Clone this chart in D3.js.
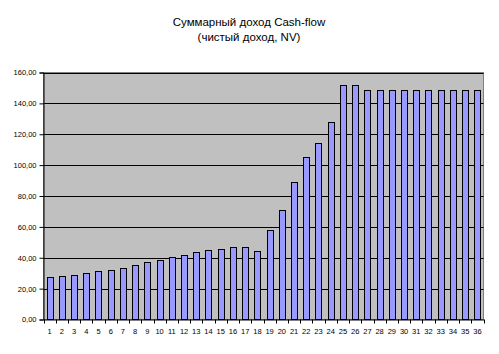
<!DOCTYPE html>
<html><head><meta charset="utf-8">
<script src="https://cdn.jsdelivr.net/npm/d3@7"></script>
<style>body{margin:0;background:#fff}svg{display:block}</style>
</head><body>
<script>
const titleLines = ["Суммарный доход Cash-flow", "(чистый доход, NV)"];
const categories = d3.range(1, 37).map(String);
const values = [27.8, 28.3, 28.9, 30.4, 31.1, 32.2, 33.5, 35.6, 37.4, 38.7, 40.6, 41.9,
  43.8, 45.1, 45.8, 47.1, 47.1, 44.5, 58.1, 71.0, 89.2, 105.4, 114.6, 128.0,
  152.2, 152.2, 148.8, 148.8, 148.8, 148.8, 148.8, 148.8, 148.8, 148.8, 148.8, 148.8];
const yTicks = [0, 20, 40, 60, 80, 100, 120, 140, 160];

const W = 499, H = 354;
const m = {left: 43.5, right: 483.5, top: 72.5, bottom: 319.5};
const svg = d3.select("body").append("svg").attr("width", W).attr("height", H);

const x = d3.scaleBand().domain(categories).range([m.left, m.right]).paddingInner(0.5).paddingOuter(0.25);
const y = d3.scaleLinear().domain([0, 160]).range([m.bottom, m.top]);

svg.append("rect").attr("x", m.left).attr("y", m.top).attr("width", m.right - m.left).attr("height", m.bottom - m.top)
  .attr("fill", "#c0c0c0").attr("stroke", "#808080").attr("stroke-width", 1);

svg.append("g").selectAll("line").data(yTicks.slice(1)).join("line")
  .attr("x1", m.left).attr("x2", m.right)
  .attr("y1", d => Math.round(y(d)) + 0.5).attr("y2", d => Math.round(y(d)) + 0.5)
  .attr("stroke", "#000").attr("stroke-width", 1);

svg.append("g").selectAll("rect").data(values).join("rect")
  .attr("x", (d, i) => Math.round(x(categories[i])) + 0.5)
  .attr("width", Math.round(x.bandwidth()))
  .attr("y", d => Math.round(y(d)) + 0.5)
  .attr("height", d => m.bottom - Math.round(y(d)) - 0.5)
  .attr("fill", "#9999ff").attr("stroke", "#000").attr("stroke-width", 1);

const fmt = d => d3.format(".2f")(d).replace(".", ",");
const yAxis = svg.append("g").attr("transform", `translate(${m.left},0)`)
  .call(d3.axisLeft(y).tickValues(yTicks).tickFormat(fmt).tickSize(4).tickPadding(3));
yAxis.select(".domain").attr("stroke", "#000");
yAxis.selectAll(".tick text").attr("font-family", "Arial, 'Liberation Sans', sans-serif").attr("font-size", "7.5px").attr("fill", "#000");
yAxis.selectAll(".tick line").attr("stroke", "#000");

const xAxis = svg.append("g").attr("transform", `translate(0,${m.bottom})`)
  .call(d3.axisBottom(x).tickSizeOuter(0).tickSize(0).tickPadding(9));
xAxis.select(".domain").attr("stroke", "#000");
xAxis.selectAll(".tick text").attr("font-family", "Arial, 'Liberation Sans', sans-serif").attr("font-size", "7.5px").attr("fill", "#000");
svg.append("g").selectAll("line").data(d3.range(0, 37)).join("line")
  .attr("x1", i => Math.round(m.left + i * (m.right - m.left) / 36) + 0.5)
  .attr("x2", i => Math.round(m.left + i * (m.right - m.left) / 36) + 0.5)
  .attr("y1", m.bottom).attr("y2", m.bottom + 4).attr("stroke", "#000");

svg.append("g").selectAll("text").data(titleLines).join("text")
  .attr("x", 249).attr("y", (d, i) => 26 + i * 14.5)
  .attr("text-anchor", "middle")
  .attr("font-family", "Arial, 'Liberation Sans', sans-serif").attr("font-size", "11.5px")
  .text(d => d);
</script>
</body></html>
